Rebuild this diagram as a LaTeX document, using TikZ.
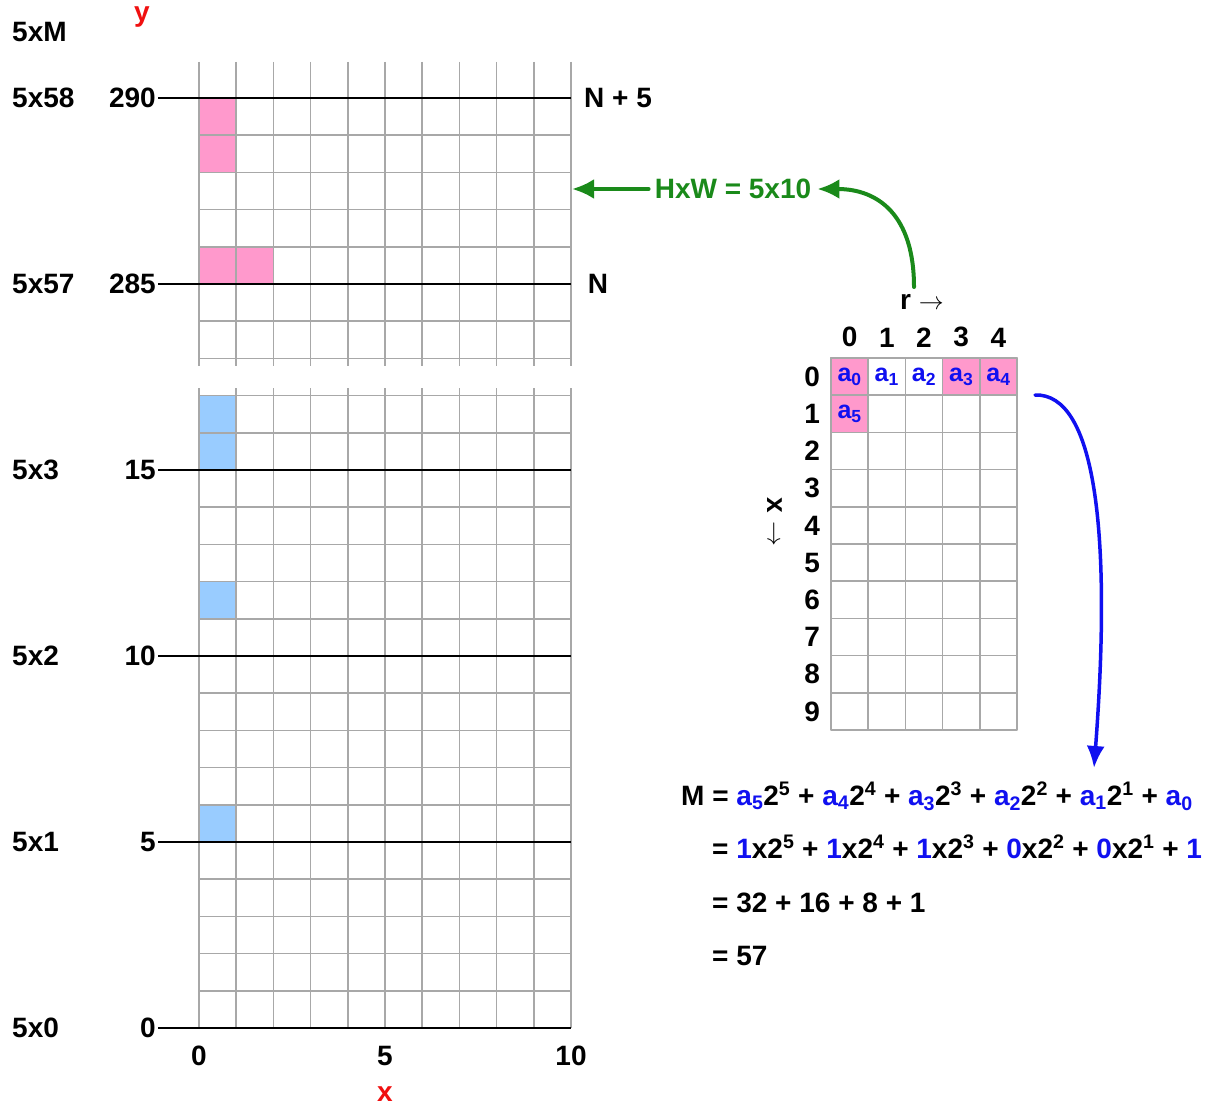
\documentclass[tikz,border=0pt]{standalone}
\usepackage{fontspec}
\setmainfont{Liberation Sans}
\usetikzlibrary{arrows.meta,positioning}
\definecolor{gridGray}{HTML}{A8A8A8}
\definecolor{cellPink}{HTML}{FF99CC}
\definecolor{cellBlue}{HTML}{99CCFF}
\definecolor{arrGreen}{HTML}{1A8A1A}
\definecolor{arrBlue}{HTML}{1010F0}
\definecolor{axRed}{HTML}{F01010}
\newcommand{\ai}[1]{\textcolor{arrBlue}{a\textsubscript{#1}}}
\newcommand{\bit}[1]{\textcolor{arrBlue}{#1}}
\newcommand{\tw}[1]{2\textsuperscript{#1}}

\begin{document}
\begin{tikzpicture}[x=1pt,y=-1pt,>=Latex,line cap=round,line join=round]
\useasboundingbox[fill=white] (0,0) rectangle (1220,1105);
\tikzset{gridline/.style={draw=gridGray,line width=1.5pt,line cap=butt},axis/.style={draw=black,line width=2.4pt,line cap=butt},lbl/.style={font=\bfseries\fontsize{28}{32}\selectfont,inner sep=2pt},cell/.style={draw=gridGray,line width=1.5pt,minimum size=37.2pt,inner sep=0pt},celltxt/.style={font=\bfseries\fontsize{25}{28}\selectfont,text=arrBlue,inner sep=0pt},eq/.style={font=\bfseries\fontsize{28}{32}\selectfont,inner sep=0pt,anchor=base west},garrow/.style={draw=arrGreen,line width=4pt,-{Latex[length=22pt,width=20pt]}},barrow/.style={draw=arrBlue,line width=3.5pt,-{Latex[length=22pt,width=18pt]}}}
% y axis, upper part
\fill[cellPink] (199,98) rectangle (236.2,172.4); \fill[cellPink] (199,246.8) rectangle (273.4,284);
\foreach \i in {0,...,10} \draw[gridline] ({199+37.2*\i},62) -- ({199+37.2*\i},366);
\foreach \k in {1,...,7} \draw[gridline] (199,{98+37.2*\k}) -- (571,{98+37.2*\k});
% y axis, lower part
\fill[cellBlue] (199,395.6) rectangle (236.2,470); \fill[cellBlue] (199,581.6) rectangle (236.2,618.8); \fill[cellBlue] (199,804.8) rectangle (236.2,842);
\foreach \i in {0,...,10} \draw[gridline] ({199+37.2*\i},388) -- ({199+37.2*\i},1028);
\foreach \k in {1,...,17} \draw[gridline] (199,{1028-37.2*\k}) -- (571,{1028-37.2*\k});
\foreach \y/\v/\m in {98/290/5x58,284/285/5x57,470/15/5x3,656/10/5x2,842/5/5x1,1028/0/5x0} {\node[lbl,anchor=east] (v\v) at (158,\y) {\v}; \node[lbl,anchor=west] (m\v) at (10,\y) {\m}; \draw[axis] (v\v.east) -- (571,\y);}
\node[lbl,anchor=west] (mM) at (10,32) {5xM}; \node[lbl,text=axRed] (ylab) at (142,17) {y};
\node[lbl,anchor=west] (nfive) at (582,98) {N + 5}; \node[lbl] (nlab) at (598,284) {N};
\node[lbl] (x0) at (199,1056) {0}; \node[lbl] (x5) at (385,1056) {5}; \node[lbl] (x10) at (571,1056) {10}; \node[lbl,text=axRed] (xlab) at (385,1094) {x};
% memory block
\foreach \r in {0,...,9} \foreach \c in {0,...,4} \node[cell] (c\r\c) at ({849.6+37.2*\c},{376.6+37.2*\r}) {};
\foreach \n in {c00,c03,c04,c10} \node[cell,fill=cellPink] at (\n) {};
\foreach \n/\s in {c00/0,c01/1,c02/2,c03/3,c04/4,c10/5} \node[celltxt] at (\n) {a\textsubscript{\s}};
\foreach \r in {0,...,9} \node[lbl,left=8pt of c\r0] (row\r) {\r};
\foreach \c in {0,...,4} \node[lbl,above=8pt of c0\c] (col\c) {\c};
\node[lbl] (rlab) at (922,302) {r $\rightarrow$}; \node[lbl,rotate=-90] (xdir) at (775,522) {x $\rightarrow$};
% HxW
\node[lbl,text=arrGreen,inner sep=6pt] (hxw) at (733,189) {HxW = 5x10};
\coordinate (gridR) at (572,189); \coordinate (gstart) at (914,287);
\draw[garrow] (hxw.west) -- (gridR);
\draw[garrow] (gstart) .. controls (914,215) and (878,189) .. (hxw.east);
% M
\node[eq] (eq1) at (681,805) {M = \ai5\tw5 + \ai4\tw4 + \ai3\tw3 + \ai2\tw2 + \ai1\tw1 + \ai0};
\node[eq] (eq2) at (712,858) {= \bit1x\tw5 + \bit1x\tw4 + \bit1x\tw3 + \bit0x\tw2 + \bit0x\tw1 + \bit1};
\node[eq] (eq3) at (712,912) {= 32 + 16 + 8 + 1};
\node[eq] (eq4) at (712,965) {= 57};
\coordinate (bstart) at (1035,395); \coordinate (btip) at (1094,768);
\draw[barrow] (bstart) .. controls (1095,393) and (1112,530) .. (btip);
\end{tikzpicture}
\end{document}
